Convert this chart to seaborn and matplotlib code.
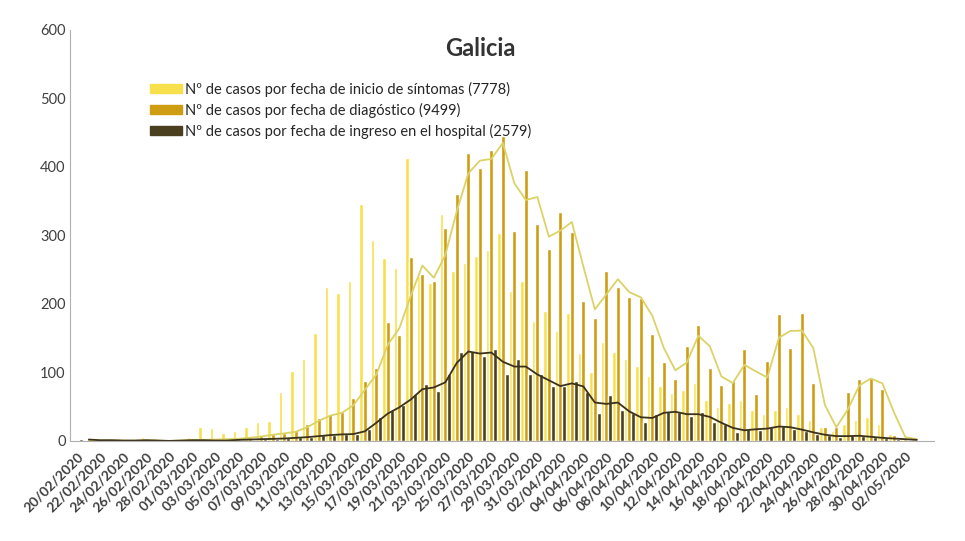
import pandas as pd
import seaborn as sns
import matplotlib.pyplot as plt
from matplotlib.patches import Patch

# one category per day, 20/02/2020 .. 03/05/2020
dates = list(pd.date_range('2020-02-20', periods=74).strftime('%d/%m/%Y'))

# nº de casos por fecha de inicio de síntomas
sintomas = [1, 2, 1, 2, 3, 3, 5, 4, 2, 3, 6,
            20, 19, 12, 15, 20, 27, 29, 72, 102, 120, 158, 225, 216, 234,
            346, 293, 267, 253, 413, 240, 230, 331, 248, 260, 270, 279,
            304, 219, 233, 175, 190, 161, 186, 128, 100, 145,
            130, 120, 110, 95, 80, 70, 75, 85, 60, 50, 55, 60, 45, 40,
            45, 50, 40, 30, 20, 15, 25, 30, 35, 25, 10, 5, 3]

# nº de casos por fecha de diagnóstico
diagnostico = [2, 0, 1, 1, 0, 1, 1, 0, 0, 1, 2, 1, 3, 2, 4, 5, 8, 10, 12, 15,
               25, 34, 40, 42, 62, 87, 107, 174, 155, 269, 243, 233, 310,
               361, 420, 398, 425, 445, 307, 396, 316, 280, 334, 305, 204,
               180, 248, 224, 210, 209, 156, 115, 91, 138, 169, 107, 81,
               88, 134, 69, 116, 185, 136, 186, 85, 20, 20, 72, 90,
               92, 76, 8, 3, 2]

# nº de casos por fecha de ingreso en el hospital
hospital = [3, 1, 1, 1, 0, 1, 1, 0, 0, 1, 1, 1, 0, 1, 2, 2, 3, 3, 4, 5, 6, 8, 9,
            10, 10, 18, 35, 45, 53, 68, 83, 73, 98, 130, 131, 124, 134,
            97, 120, 97, 97, 80, 80, 88, 71, 41, 67, 45, 41, 28, 39, 43,
            42, 36, 42, 28, 25, 13, 18, 16,
            20, 22, 18, 15, 10, 8, 6, 8, 7, 5, 4, 3, 2, 1]

labels = ['Nº de casos por fecha de inicio de síntomas (7778)',
          'Nº de casos por fecha de diagóstico (9499)',
          'Nº de casos por fecha de ingreso en el hospital (2579)']
colors = ['#f7e04b', '#cf9d12', '#4a3f1f']

df = pd.DataFrame({'fecha': dates, labels[0]: sintomas,
                   labels[1]: diagnostico, labels[2]: hospital})
long = df.melt(id_vars='fecha', var_name='serie', value_name='casos')

sns.set_style('white')
plt.rcParams['font.family'] = ['Lato', 'DejaVu Sans']

fig, ax = plt.subplots(figsize=(9.65, 5.41), dpi=100)
fig.subplots_adjust(left=0.073, right=0.968, top=0.945, bottom=0.185)

sns.barplot(data=long, x='fecha', y='casos', hue='serie', hue_order=labels,
            palette=dict(zip(labels, colors)), saturation=1, width=1.0,
            order=dates, ax=ax, legend=False)

# moving average (2 periods) trend lines
pos = list(range(len(dates)))
sns.lineplot(x=pos, y=pd.Series(diagnostico).rolling(2).mean(),
             color='#dcd266', lw=1.3, ax=ax)
sns.lineplot(x=pos, y=pd.Series(hospital).rolling(2).mean(),
             color='#3a321a', lw=1.3, ax=ax)

ax.set_ylim(0, 600)
ax.set_yticks(range(0, 601, 100))
ax.set_xlim(-0.6, len(dates) + 0.5)
ax.set_xticks(pos[::2])
ax.set_xticklabels(dates[::2], rotation=45, ha='right', rotation_mode='anchor',
                   fontsize=10, fontweight='bold', color='#404040')
ax.tick_params(axis='y', labelsize=10.5, labelcolor='#404040', length=0)
ax.tick_params(axis='x', length=3, color='#bbbbbb')
ax.set_xlabel('')
ax.set_ylabel('')
for s in ['top', 'right']:
    ax.spines[s].set_visible(False)
ax.spines['left'].set_color('#b0b0b0')
ax.spines['bottom'].set_color('#b0b0b0')

ax.set_title('Galicia', fontsize=17, fontweight='bold', color='#333333',
             x=0.475, y=0.915)

handles = [Patch(color=c) for c in colors]
ax.legend(handles, labels, loc='upper left', bbox_to_anchor=(0.077, 0.905),
          frameon=False, fontsize=10.5, handlelength=2.2, handleheight=0.6,
          handletextpad=0.2, labelspacing=0.4)

plt.savefig('out.png', dpi=100)
